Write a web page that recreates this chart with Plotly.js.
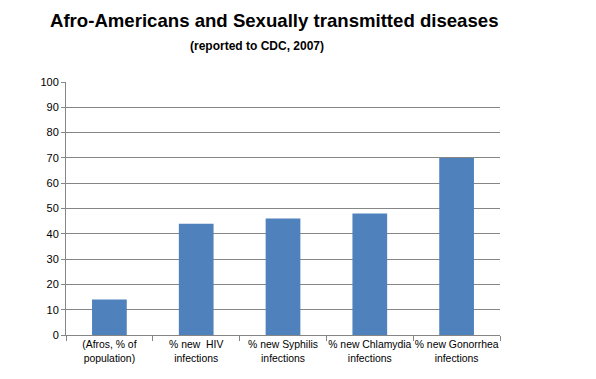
<!DOCTYPE html>
<html>
<head>
<meta charset="utf-8">
<script src="https://cdn.plot.ly/plotly-3.0.1.min.js"></script>
<style>html,body{margin:0;padding:0;background:#fff;}#chart{width:596px;height:379px;}</style>
</head>
<body>
<div id="chart"></div>
<script>
const categories = ["(Afros, % of<br>population)", "% new  HIV<br>infections", "% new Syphilis<br>infections", "% new Chlamydia<br>infections", "% new Gonorrhea<br>infections"];
const values = [14, 44, 46, 48, 70];
const yTicks = [0, 10, 20, 30, 40, 50, 60, 70, 80, 90, 100];

const data = [{
  type: "bar",
  x: categories,
  y: values,
  marker: {color: "#4f81bd"},
  width: 0.4,
  hoverinfo: "none"
}];

const layout = {
  width: 596,
  height: 379,
  margin: {l: 66, r: 96, t: 82, b: 44},
  paper_bgcolor: "#fff",
  plot_bgcolor: "#fff",
  font: {family: "Liberation Sans, Arial, sans-serif", size: 11, color: "#000"},
  showlegend: false,
  bargap: 0.6,
  xaxis: {
    type: "category",
    showline: true,
    linecolor: "#868686",
    linewidth: 1,
    ticks: "outside",
    tickson: "boundaries",
    ticklen: 5,
    tickcolor: "#868686",
    showgrid: false,
    tickangle: 0,
    automargin: false,
    tickfont: {size: 10.4}
  },
  yaxis: {
    range: [0, 100],
    tickvals: yTicks,
    ticktext: yTicks.map(String),
    showline: true,
    linecolor: "#868686",
    linewidth: 1,
    ticks: "outside",
    ticklen: 4,
    tickcolor: "#868686",
    showgrid: true,
    gridcolor: "#868686",
    gridwidth: 1,
    zeroline: false,
    automargin: false,
    tickfont: {size: 11},
    fixedrange: true
  },
  annotations: [
    {text: "<b>Afro-Americans and Sexually transmitted diseases</b>", xref: "paper", yref: "paper",
     x: (274 - 66) / 434, y: 1, yshift: 62, showarrow: false, xanchor: "center", yanchor: "middle",
     font: {size: 18.6, family: "Liberation Sans, Arial, sans-serif", color: "#000"}},
    {text: "<b>(reported to CDC, 2007)</b>", xref: "paper", yref: "paper",
     x: (257 - 66) / 434, y: 1, yshift: 36, showarrow: false, xanchor: "center", yanchor: "middle",
     font: {size: 12, family: "Liberation Sans, Arial, sans-serif", color: "#000"}}
  ]
};

Plotly.newPlot("chart", data, layout, {displayModeBar: false, staticPlot: true});
</script>
</body>
</html>
